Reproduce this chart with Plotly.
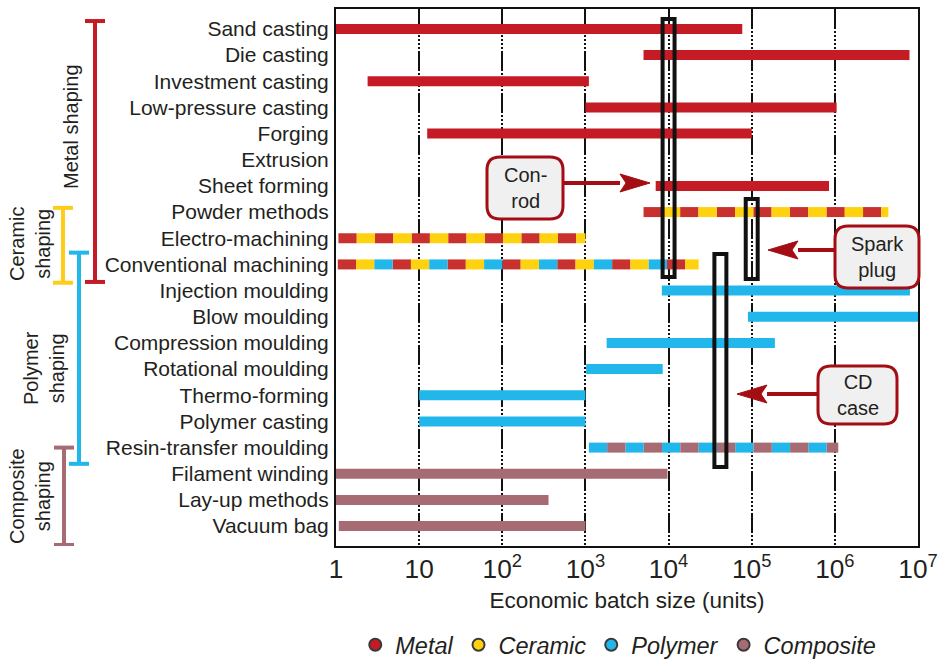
import math
import plotly.graph_objects as go

# ---------------- data ----------------
categories = ["Sand casting", "Die casting", "Investment casting", "Low-pressure casting",
              "Forging", "Extrusion", "Sheet forming", "Powder methods", "Electro-machining",
              "Conventional machining", "Injection moulding", "Blow moulding",
              "Compression moulding", "Rotational moulding", "Thermo-forming",
              "Polymer casting", "Resin-transfer moulding", "Filament winding",
              "Lay-up methods", "Vacuum bag"]
batch_min = [1, 5.0e3, 2.4, 1.0e3, 12.5, None, 7.0e3, 5.0e3, 1.07, 1.05,
             8.3e3, 9.0e4, 1.8e3, 1.02e3, 10, 10, 1.1e3, 1, 1, 1.08]
batch_max = [7.7e4, 7.9e6, 1.1e3, 1.05e6, 1.0e5, None, 8.5e5, 4.4e6, 1.0e3, 2.3e4,
             8.0e6, 1.0e7, 1.9e5, 8.5e3, 1.0e3, 1.0e3, 1.1e6, 9.7e3, 360, 1.0e3]
row_materials = [["Metal"], ["Metal"], ["Metal"], ["Metal"], ["Metal"], ["Metal"], ["Metal"],
                 ["Metal", "Ceramic"], ["Metal", "Ceramic"], ["Metal", "Ceramic", "Polymer"],
                 ["Polymer"], ["Polymer"], ["Polymer"], ["Polymer"], ["Polymer"], ["Polymer"],
                 ["Polymer", "Composite"], ["Composite"], ["Composite"], ["Composite"]]
materials = ["Metal", "Ceramic", "Polymer", "Composite"]
colors = {"Metal": "#C41B25", "Ceramic": "#FFD20F", "Polymer": "#22B7EB", "Composite": "#A76B74"}
stripe_colors = {"Metal": "#C8312E", "Ceramic": "#FFD20F", "Polymer": "#22B7EB", "Composite": "#A76B74"}
stripe_decades = 0.22

# shaping families (brackets on the left), in row units
family_labels = ["Metal shaping", "Ceramic<br>shaping", "Polymer<br>shaping", "Composite<br>shaping"]
family_colors = ["#C41B25", "#FFCC1A", "#22B7EB", "#A76B74"]
family_row_top = [-0.3, 6.84, 8.55, 16.0]
family_row_bot = [9.67, 9.7, 16.62, 19.72]

# example products
products = ["Con-<br>rod", "Spark<br>plug", "CD<br>case"]
product_batch = [1.0e4, 1.0e5, 4.2e4]
product_row_top = [-0.38, 6.5, 8.6]
product_row_bot = [9.48, 9.56, 16.74]

# ---------------- layout geometry ----------------
W, H = 948, 661
L, R, T, B = 336, 30, 9, 115
PW, PH = W - L - R, H - T - B
FONT = "Liberation Sans, Arial, Helvetica, sans-serif"
TXT = "#231F20"
DARKRED = "#A30D13"


def X(px):
    return (px - L) / PW


def Y(py):
    return 1 - (py - T) / PH


fig = go.Figure()

# ---------------- bars ----------------
seg_x = {m: [] for m in materials}
seg_y = {m: [] for m in materials}
solid_x, solid_y = [], []
for cat, lo, hi, mats in zip(categories, batch_min, batch_max, row_materials):
    if lo is None:
        continue
    if len(mats) == 1:
        if mats[0] == "Metal":
            solid_x += [lo, hi, None]
            solid_y += [cat, cat, None]
        else:
            seg_x[mats[0]] += [lo, hi, None]
            seg_y[mats[0]] += [cat, cat, None]
        continue
    a, b = math.log10(lo), math.log10(hi)
    k = 0
    p = a
    while p < b - 1e-9:
        q = min(p + stripe_decades, b)
        m = mats[k % len(mats)]
        seg_x[m] += [10 ** p, 10 ** q, None]
        seg_y[m] += [cat, cat, None]
        p = q
        k += 1

fig.add_trace(go.Scatter(x=solid_x, y=solid_y, mode="lines",
                         line=dict(color=colors["Metal"], width=10),
                         showlegend=False, hoverinfo="skip"))
for m in materials:
    fig.add_trace(go.Scatter(x=seg_x[m], y=seg_y[m], mode="lines",
                             line=dict(color=stripe_colors[m], width=10),
                             showlegend=False, hoverinfo="skip"))

# legend entries
for m in materials:
    fig.add_trace(go.Scatter(x=[None], y=[None], mode="markers", name=m,
                             marker=dict(symbol="circle", size=13, color=colors[m],
                                         line=dict(color="#3a3a3a", width=1))))

shapes = []
annotations = []

# product highlight rectangles (data coordinates)
half = 0.072
for name, xb, rt, rb in zip(products, product_batch, product_row_top, product_row_bot):
    lx = math.log10(xb)
    shapes.append(dict(type="rect", xref="x", yref="y", x0=10 ** (lx - half), x1=10 ** (lx + half),
                       y0=rt, y1=rb, line=dict(color="#111111", width=4), layer="above"))

# family brackets on the left
bracket_px = [95, 63, 79, 64]
for col, rt, rb, bx in zip(family_colors, family_row_top, family_row_bot, bracket_px):
    shapes.append(dict(type="line", xref="paper", yref="y", x0=X(bx), x1=X(bx), y0=rt, y1=rb,
                       line=dict(color=col, width=4)))
    for yy in (rt, rb):
        shapes.append(dict(type="line", xref="paper", yref="y", x0=X(bx - 10), x1=X(bx + 10),
                           y0=yy, y1=yy, line=dict(color=col, width=4)))

label_pos = [(71, 127), (30, 244), (44, 368), (30, 496)]
for lab, (lx, ly) in zip(family_labels, label_pos):
    annotations.append(dict(xref="paper", yref="paper", x=X(lx), y=Y(ly), text=lab, textangle=-90,
                            showarrow=False, font=dict(family=FONT, size=20, color=TXT),
                            xanchor="center", yanchor="middle"))


def rounded_box(x0, y0, x1, y1, r):
    pts = [("M", [(x0 + r, y0)]), ("L", [(x1 - r, y0)]), ("Q", [(x1, y0), (x1, y0 + r)]),
           ("L", [(x1, y1 - r)]), ("Q", [(x1, y1), (x1 - r, y1)]), ("L", [(x0 + r, y1)]),
           ("Q", [(x0, y1), (x0, y1 - r)]), ("L", [(x0, y0 + r)]), ("Q", [(x0, y0), (x0 + r, y0)])]
    s = ""
    for cmd, pp in pts:
        s += cmd + " " + " ".join(f"{X(a):.5f},{Y(b):.5f}" for a, b in pp) + " "
    return s + "Z"


# callouts: box (px), arrow tail x, tip x, y
callouts = [((487, 157, 563, 219), 563, 650, 183),
            ((835, 226, 919, 288), 835, 768, 250),
            ((818, 366, 897, 424), 818, 737, 394)]
for name, (box, tail, tip, ay) in zip(products, callouts):
    x0, y0, x1, y1 = box
    direction = 1 if tip > tail else -1
    head_base = tip - direction * 30
    shapes.append(dict(type="line", xref="paper", yref="paper", x0=X(tail), x1=X(head_base),
                       y0=Y(ay), y1=Y(ay), line=dict(color=DARKRED, width=4), layer="above"))
    tri = f"M {X(tip):.5f},{Y(ay):.5f} L {X(head_base):.5f},{Y(ay - 9):.5f} " \
          f"L {X(head_base + direction * 6):.5f},{Y(ay):.5f} L {X(head_base):.5f},{Y(ay + 9):.5f} Z"
    shapes.append(dict(type="path", xref="paper", yref="paper", path=tri,
                       fillcolor=DARKRED, line=dict(color=DARKRED, width=1), layer="above"))
    shapes.append(dict(type="path", xref="paper", yref="paper", path=rounded_box(x0, y0, x1, y1, 13),
                       fillcolor="#F0F0F0", line=dict(color=DARKRED, width=3), layer="above"))
    annotations.append(dict(xref="paper", yref="paper", x=X((x0 + x1) / 2), y=Y((y0 + y1) / 2),
                            text=name, showarrow=False, align="center",
                            font=dict(family=FONT, size=20, color=TXT),
                            xanchor="center", yanchor="middle"))

fig.update_layout(
    width=W, height=H,
    margin=dict(l=L, r=R, t=T, b=B, pad=0, autoexpand=False),
    paper_bgcolor="white", plot_bgcolor="white",
    font=dict(family=FONT, color=TXT),
    shapes=shapes, annotations=annotations,
    showlegend=True,
    legend=dict(orientation="h", x=0.485, xanchor="center", y=Y(645), yanchor="middle",
                font=dict(family=FONT, size=23.5, color=TXT, style="italic"),
                itemwidth=30, itemsizing="constant", bgcolor="rgba(0,0,0,0)"),
    xaxis=dict(type="log", range=[0, 7], dtick=1, exponentformat="power",
               showgrid=True, gridcolor="#111111", gridwidth=2,
               griddash="20px,2px,2px,2px,2px,2px,2px,2px,2px,2px,2px,2px",
               showline=True, linecolor="#111111", linewidth=2, mirror=True,
               ticks="", tickfont=dict(family=FONT, size=21, color=TXT),
               title=dict(text="Economic batch size (units)", font=dict(family=FONT, size=22.5, color=TXT),
                          standoff=9),
               zeroline=False, automargin=False),
    yaxis=dict(type="category", categoryorder="array", categoryarray=categories,
               range=[19.76, -0.76], showgrid=False,
               showline=True, linecolor="#111111", linewidth=2, mirror=True,
               ticks="", tickfont=dict(family=FONT, size=21, color=TXT), ticklabelstandoff=1,
               automargin=False),
)

fig.write_html("out.html", config={"displayModeBar": False},
               post_script="document.body.style.margin='0px';")
